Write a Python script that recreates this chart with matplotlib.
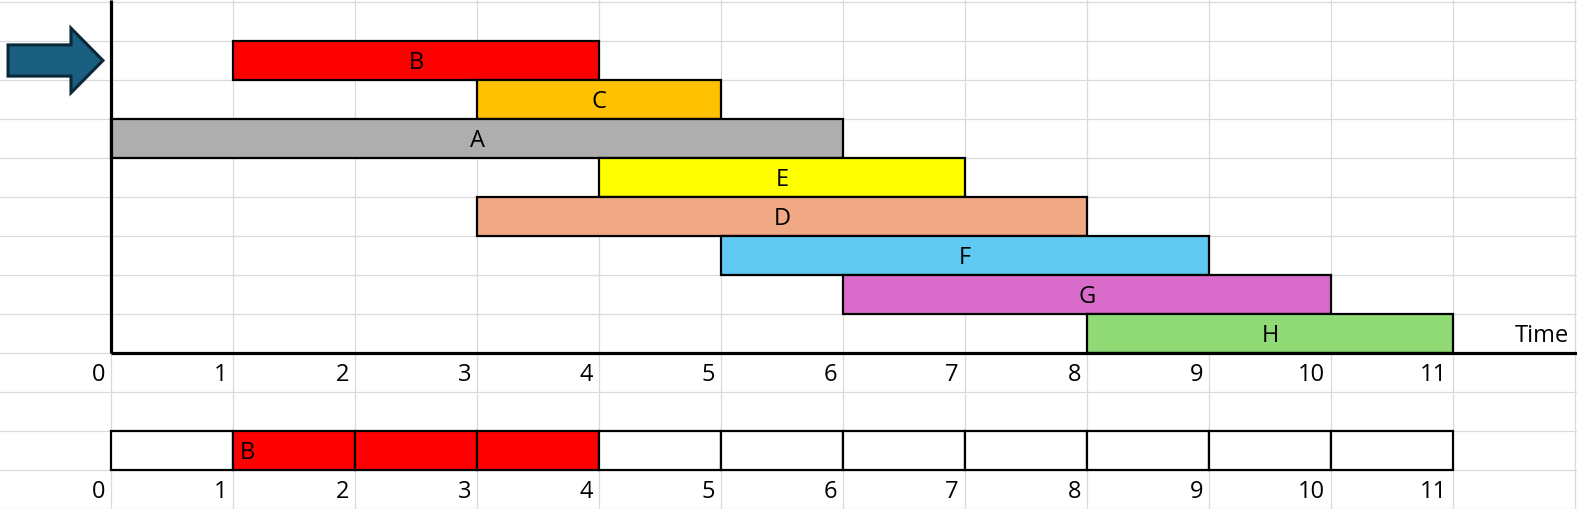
import matplotlib
matplotlib.use("Agg")
import matplotlib.pyplot as plt
from matplotlib.patches import Polygon
from matplotlib.transforms import offset_copy

# ---------------- data ----------------
tasks = ["B", "C", "A", "E", "D", "F", "G", "H"]
starts = [1, 3, 0, 4, 3, 5, 6, 8]
ends = [4, 5, 6, 7, 8, 9, 10, 11]
colors = ["#FF0000", "#FFC000", "#AEAEAE", "#FFFF00", "#F1A985",
          "#5FC9F1", "#D96CCB", "#8FDA74"]
tick_labels = [str(i) for i in range(12)]
timeline_cells = ["", "B", "B", "B", "", "", "", "", "", "", ""]
timeline_color = "#FF0000"
axis_label = "Time"

# ---------------- layout (spreadsheet rows/cols) ----------------
W, H = 1577, 509
COL_W, ROW_H = 122.0, 39.0
X0_PX, Y0_PX = 111.0, 2.0
first_task_row = 1
axis_row = first_task_row + len(tasks)       # row boundary of time axis
tick_row = axis_row                           # tick label row index
timeline_row = axis_row + 2
timeline_tick_row = timeline_row + 1
n_rows = 13

fig = plt.figure(figsize=(W / 100, H / 100), dpi=100)
ax = fig.add_axes([0, 0, 1, 1])
ax.set_xlim(-X0_PX / COL_W, (W - X0_PX) / COL_W)
ax.set_ylim((H - Y0_PX) / ROW_H, -Y0_PX / ROW_H)
ax.axis("off")

font = ["Open Sans", "DejaVu Sans"]
fs = 17
CAP = 8.5  # half cap height in pixels: baseline sits this far below centre
grid_c = "#DADADA"

# grid
for r in range(n_rows + 1):
    ax.axhline(r, color=grid_c, lw=0.9, zorder=0)
for c in range(-1, 13):
    ax.axvline(c, color=grid_c, lw=0.9, zorder=0)

center_tr = offset_copy(ax.transData, fig=fig, x=0, y=-CAP, units="dots")
left_shift = offset_copy(ax.transData, fig=fig, x=-6, y=-CAP, units="dots")
right_shift = offset_copy(ax.transData, fig=fig, x=7, y=-CAP, units="dots")

# gantt bars
rows = [first_task_row + i + 0.5 for i in range(len(tasks))]
widths = [e - s for s, e in zip(starts, ends)]
ax.barh(rows, widths, left=starts, height=1.0, color=colors,
        edgecolor="black", linewidth=1.6, zorder=3)
for t, r, s, w in zip(tasks, rows, starts, widths):
    ax.text(s + w / 2, r, t, ha="center", va="baseline", fontsize=fs,
            family=font, zorder=4, transform=center_tr)

# axes lines
ax.plot([0, 0], [ax.get_ylim()[1], axis_row], color="black", lw=2.3,
        zorder=5, solid_capstyle="butt")
ax.plot([0, ax.get_xlim()[1]], [axis_row, axis_row], color="black", lw=2.3,
        zorder=5, solid_capstyle="butt")

# tick labels (right aligned in their cell)
for i, lab in enumerate(tick_labels):
    ax.text(i, tick_row + 0.5, lab, ha="right", va="baseline", fontsize=fs,
            family=font, transform=left_shift)
    ax.text(i, timeline_tick_row + 0.5, lab, ha="right", va="baseline",
            fontsize=fs, family=font, transform=left_shift)

ax.text(12, axis_row - 0.5, axis_label, ha="right", va="baseline",
        fontsize=fs, family=font, transform=left_shift)

# timeline row
n_cells = len(timeline_cells)
cell_colors = [timeline_color if c else "white" for c in timeline_cells]
ax.barh([timeline_row + 0.5] * n_cells, [1] * n_cells,
        left=list(range(n_cells)), height=1.0, color=cell_colors,
        edgecolor="black", linewidth=1.6, zorder=3)
prev = ""
for i, c in enumerate(timeline_cells):
    if c and c != prev:
        ax.text(i, timeline_row + 0.5, c, ha="left", va="baseline",
                fontsize=fs, family=font, transform=right_shift, zorder=4)
    prev = c

# pointer arrow at the first task row
tip_x, tip_y = -0.066, first_task_row + 0.5
tail_x, neck_x = -0.844, -0.328
shaft_h, head_h = 0.40, 0.83
pts = [(tail_x, tip_y - shaft_h), (neck_x, tip_y - shaft_h),
       (neck_x, tip_y - head_h), (tip_x, tip_y), (neck_x, tip_y + head_h),
       (neck_x, tip_y + shaft_h), (tail_x, tip_y + shaft_h)]
ax.add_patch(Polygon(pts, closed=True, facecolor="#1A5F80",
                     edgecolor="#0B2838", linewidth=2.2, zorder=6))

fig.savefig("out.png", dpi=100)
